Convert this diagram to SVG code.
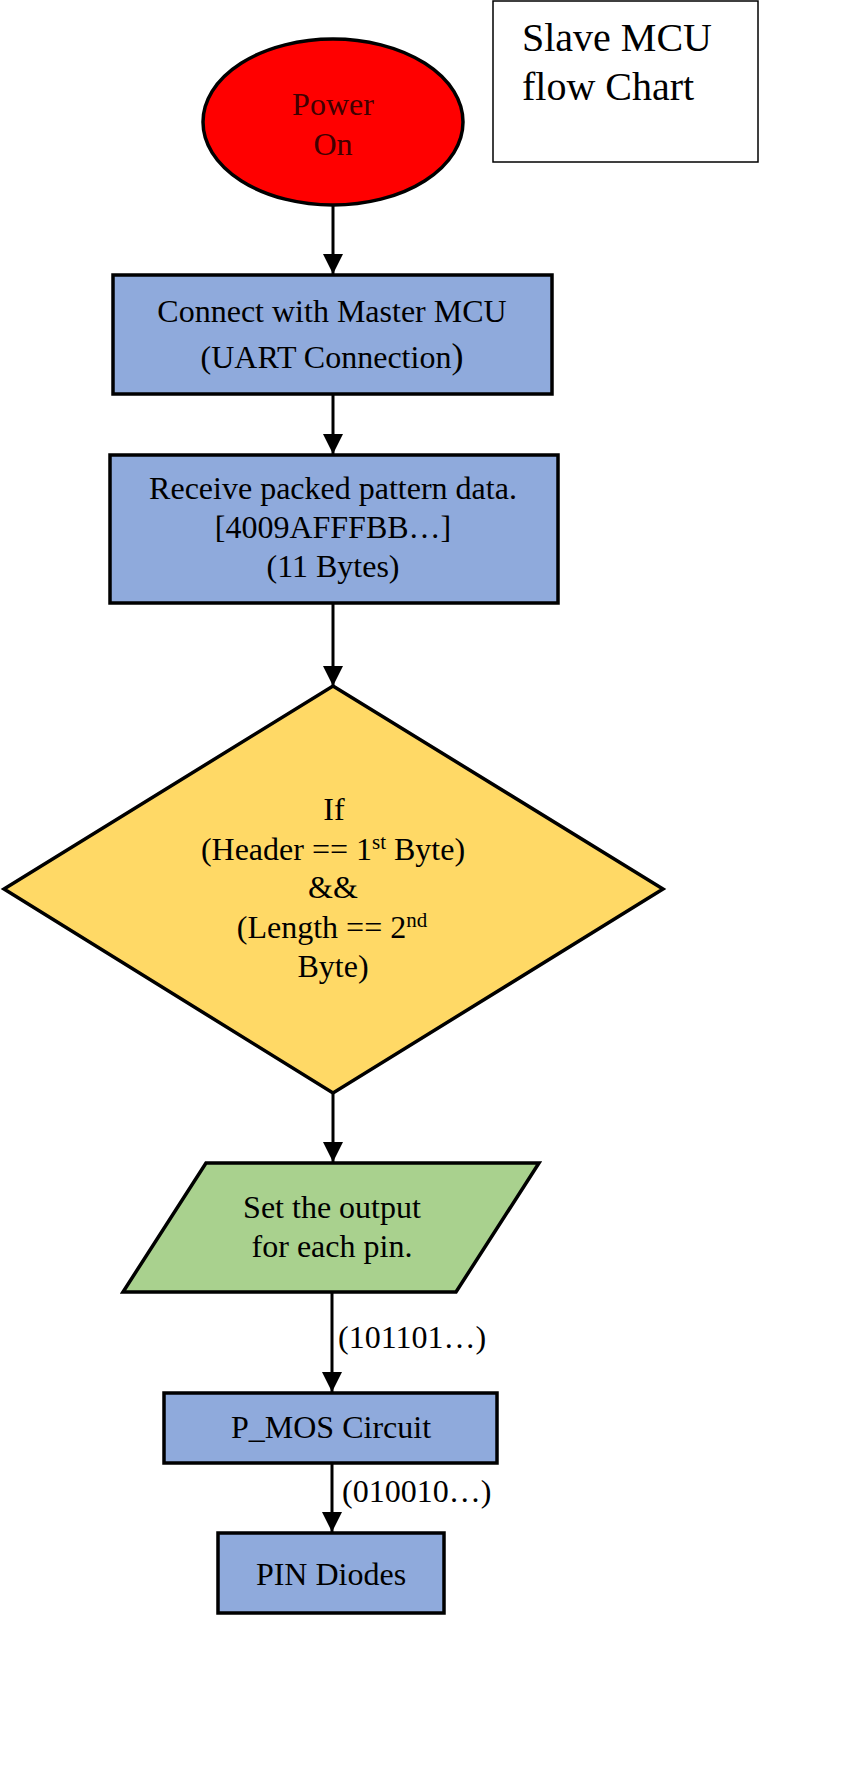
<svg xmlns="http://www.w3.org/2000/svg" width="855" height="1786" viewBox="0 0 855 1786">
<style>
text{font-family:"Liberation Serif","Times New Roman",serif;font-size:32px;fill:#000;text-anchor:middle}
.blue{fill:#8FAADC;stroke:#000;stroke-width:3.5}
.conn{stroke:#000;stroke-width:3;fill:none}
.lbl{text-anchor:start}
</style>
<defs>
<marker id="ah" markerUnits="userSpaceOnUse" markerWidth="22" markerHeight="22" refX="20" refY="10" orient="auto">
<path d="M0,0 L20,10 L0,20 Z" fill="#000"/>
</marker>
</defs>
<rect width="855" height="1786" fill="#fff"/>
<g id="title">
<rect x="493" y="1" width="265" height="161" fill="#fff" stroke="#000" stroke-width="1.5"/>
<text x="522" y="51" style="text-anchor:start;font-size:40px">Slave MCU</text>
<text x="522" y="100" style="text-anchor:start;font-size:40px">flow Chart</text>
</g>
<g id="connectors">
<line class="conn" x1="333" y1="206" x2="333" y2="274" marker-end="url(#ah)"/>
<line class="conn" x1="333" y1="395" x2="333" y2="454" marker-end="url(#ah)"/>
<line class="conn" x1="333" y1="604" x2="333" y2="686" marker-end="url(#ah)"/>
<line class="conn" x1="333" y1="1093" x2="333" y2="1162" marker-end="url(#ah)"/>
<line class="conn" x1="332" y1="1293" x2="332" y2="1392" marker-end="url(#ah)"/>
<line class="conn" x1="332" y1="1464" x2="332" y2="1532" marker-end="url(#ah)"/>
<text class="lbl" x="338" y="1348">(101101…)</text>
<text class="lbl" x="342" y="1502">(010010…)</text>
</g>
<g id="power-on">
<ellipse cx="333" cy="122" rx="130" ry="83" fill="#FF0000" stroke="#000" stroke-width="3.5"/>
<text x="333" y="115" style="fill:#400000">Power</text>
<text x="333" y="155" style="fill:#400000">On</text>
</g>
<g id="connect">
<rect class="blue" x="113" y="275" width="439" height="119"/>
<text x="332" y="322">Connect with Master MCU</text>
<text x="332" y="368">(UART Connection<tspan style="font-size:36px">)</tspan></text>
</g>
<g id="receive">
<rect class="blue" x="110" y="455" width="448" height="148"/>
<text x="333" y="499">Receive packed pattern data.</text>
<text x="333" y="538">[4009AFFFBB…]</text>
<text x="333" y="577">(11 Bytes)</text>
</g>
<g id="decision">
<polygon points="333,686 663,889 333,1093 4,889" fill="#FFD966" stroke="#000" stroke-width="3.5"/>
<text x="334" y="820">If</text>
<text x="333" y="860">(Header == 1<tspan dy="-11" style="font-size:21px">st</tspan><tspan dy="11"> Byte)</tspan></text>
<text x="333" y="898">&amp;&amp;</text>
<text x="332" y="938">(Length == 2<tspan dy="-11" style="font-size:21px">nd</tspan></text>
<text x="333" y="977">Byte)</text>
</g>
<g id="set-output">
<polygon points="206,1163 539,1163 456,1292 123,1292" fill="#A9D18E" stroke="#000" stroke-width="3.5"/>
<text x="332" y="1218">Set the output</text>
<text x="332" y="1257">for each pin.</text>
</g>
<g id="pmos">
<rect class="blue" x="164" y="1393" width="333" height="70"/>
<text x="331" y="1438">P_MOS Circuit</text>
</g>
<g id="pin-diodes">
<rect class="blue" x="218" y="1533" width="226" height="80"/>
<text x="331" y="1585">PIN Diodes</text>
</g>
</svg>
